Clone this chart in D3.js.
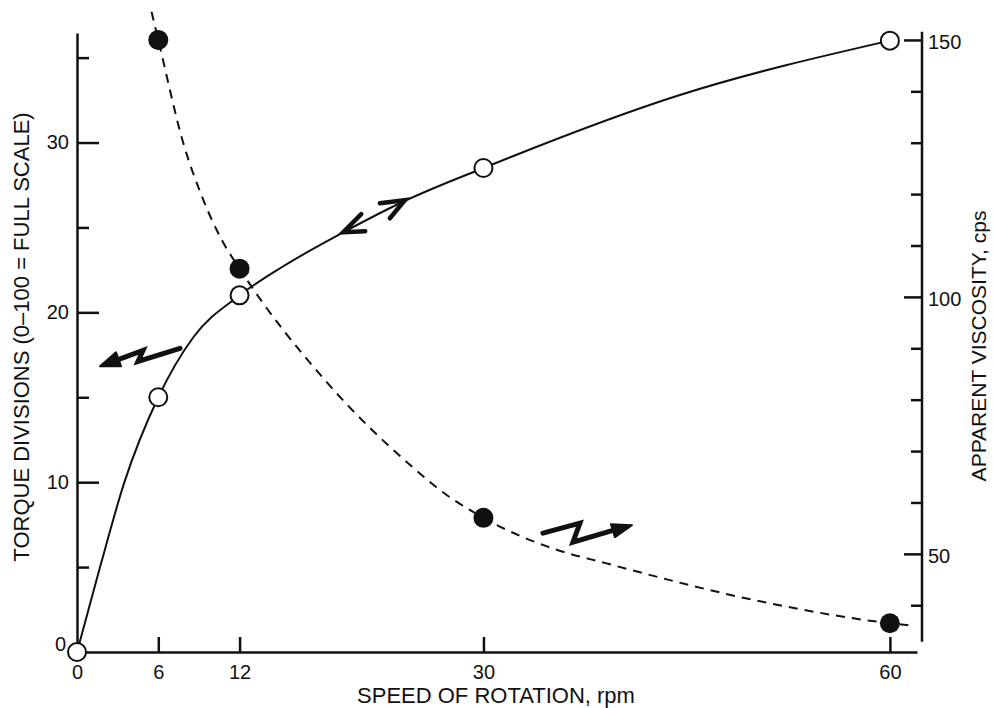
<!DOCTYPE html>
<html>
<head>
<meta charset="utf-8">
<script src="https://cdn.jsdelivr.net/npm/d3@7"></script>
<style>
  body { margin: 0; background: #fff; }
  text { font-family: 'Liberation Sans', Arial, Helvetica, sans-serif; fill: #111; }
</style>
</head>
<body>
<div id="chart-area"></div>
<script>
// measured points (circles)
var torqueRpm = [0, 6, 12, 30, 60];
var torqueDiv = [0, 15, 21, 28.5, 36];
var viscRpm = [6, 12, 30, 60];
var viscCps = [150, 105.5, 57, 36.5];

// hand drawn curves
var torqueCurveRpm = [0, 1.7, 3.5, 6, 8.6, 12, 15.2, 19.4, 24.3, 30, 44.5, 60];
var torqueCurveDiv = [0, 5, 10, 15, 18.55, 21, 22.7, 24.6, 26.6, 28.5, 32.8, 36];
var viscCurveRpm = [5.5, 6, 7.85, 9.32, 10.68, 12, 18.4, 24.8, 26.8, 30, 35.4, 39, 50, 60, 61.8];
var viscCurveCps = [155.5, 150, 129.9, 118.9, 111.1, 105.5, 83.5, 66.8, 62.4, 57, 50.8, 48.2, 41.0, 36.5, 36.0];

// ticks
var rpmTicks = [0, 6, 12, 30, 60];
var torqueTicks = [0, 5, 10, 15, 20, 25, 30, 35];
var torqueLabels = [0, 10, 20, 30];
var viscTicks = [40, 50, 60, 70, 80, 90, 100, 110, 120, 130, 140, 150];
var viscLabels = [50, 100, 150];

// annotation anchors (rpm, torque divisions)
var zigLeft = [1.7, 16.82];
var zigRight = [40.96, 7.47];
var curveArrows = [[19.65, 24.72], [24.2, 26.6]];

var margin = {top: 33, left: 77, right: 76, bottom: 56};
var width = 993 - margin.left - margin.right;
var height = 708 - margin.top - margin.bottom;
var ink = '#111';

var svg = d3.select('#chart-area')
  .append('svg')
    .attr('width', width + margin.left + margin.right)
    .attr('height', height + margin.top + margin.bottom)
  .append('g')
    .attr('transform', 'translate(' + margin.left + ',' + margin.top + ')');

var x = d3.scaleLinear().domain([0, 62]).range([0, width]);
var yT = d3.scaleLinear().domain([0, 36.45]).range([height, 0]);
var yV = d3.scaleLinear().domain([30.9, 151.35]).range([height, 0]);

// X axis
var xAxis = svg.append('g')
  .attr('transform', 'translate(0,' + height + ')')
  .call(d3.axisBottom(x).tickValues(rpmTicks).tickSizeInner(-15).tickSizeOuter(0).tickPadding(13));
xAxis.selectAll('.tick line').filter(d => d === 0).remove();

// left axis
var yAxisL = svg.append('g')
  .call(d3.axisLeft(yT).tickValues(torqueTicks).tickSizeInner(-12).tickSizeOuter(0).tickPadding(8)
    .tickFormat(d => torqueLabels.indexOf(d) >= 0 ? d : ''));
yAxisL.selectAll('.tick line').attr('x2', d => torqueLabels.indexOf(d) >= 0 ? 22 : 12);
yAxisL.selectAll('.tick').filter(d => d === 0).select('line').remove();
yAxisL.selectAll('.tick').filter(d => d === 0).select('text').attr('x', -11).attr('y', -8);

// right axis
var yAxisR = svg.append('g')
  .attr('transform', 'translate(' + (width + 5) + ',0)')
  .call(d3.axisRight(yV).tickValues(viscTicks).tickSizeInner(-11).tickSizeOuter(0).tickPadding(6)
    .tickFormat(d => viscLabels.indexOf(d) >= 0 ? d : ''));
yAxisR.selectAll('.tick line').attr('x2', d => viscLabels.indexOf(d) >= 0 ? -18 : -11);
yAxisR.selectAll('.tick text').attr('dy', '0.45em');
yAxisR.select('.domain').remove();
yAxisR.append('line')
  .attr('y1', yV(151.6)).attr('y2', yV(32.9))
  .attr('stroke', ink).attr('stroke-width', 2.5);

[xAxis, yAxisL, yAxisR].forEach(function(g){
  g.selectAll('.domain, line').attr('stroke', ink).attr('stroke-width', 2.5);
  g.selectAll('text').style('font-size', '20px').attr('fill', ink);
});

// axis titles
svg.append('text')
  .attr('transform', 'translate(-48,304) rotate(-90)')
  .attr('text-anchor', 'middle')
  .attr('font-size', '22px')
  .text('TORQUE DIVISIONS (0\u2013100 = FULL SCALE)');
svg.append('text')
  .attr('x', 419)
  .attr('y', height + 51)
  .attr('text-anchor', 'middle')
  .attr('font-size', '22px')
  .text('SPEED OF ROTATION, rpm');
svg.append('text')
  .attr('transform', 'translate(' + (width + 69) + ',313) rotate(-90)')
  .attr('text-anchor', 'middle')
  .attr('font-size', '21px')
  .text('APPARENT VISCOSITY, cps');

// curves
var torqueLine = d3.line()
  .x(d => x(d[0])).y(d => yT(d[1]))
  .curve(d3.curveMonotoneX);
var viscLine = d3.line()
  .x(d => x(d[0])).y(d => yV(d[1]))
  .curve(d3.curveMonotoneX);

svg.append('path')
  .datum(d3.zip(viscCurveRpm, viscCurveCps))
  .attr('fill', 'none')
  .attr('stroke', ink)
  .attr('stroke-width', 2)
  .attr('stroke-dasharray', '9,7')
  .attr('d', viscLine);

svg.append('path')
  .datum(d3.zip(torqueCurveRpm, torqueCurveDiv))
  .attr('fill', 'none')
  .attr('stroke', ink)
  .attr('stroke-width', 2)
  .attr('d', torqueLine);

// points
svg.selectAll('circle.visc')
  .data(d3.zip(viscRpm, viscCps))
  .enter().append('circle')
    .attr('class', 'visc')
    .attr('cx', d => x(d[0]))
    .attr('cy', d => yV(d[1]))
    .attr('r', 10)
    .attr('fill', ink);

svg.selectAll('circle.torque')
  .data(d3.zip(torqueRpm, torqueDiv))
  .enter().append('circle')
    .attr('class', 'torque')
    .attr('cx', d => x(d[0]))
    .attr('cy', d => yT(d[1]))
    .attr('r', 9)
    .attr('fill', '#fff')
    .attr('stroke', ink)
    .attr('stroke-width', 2);

// zigzag arrows
function zigzag(anchor, body, head){
  var g = svg.append('g')
    .attr('transform', 'translate(' + x(anchor[0]) + ',' + yT(anchor[1]) + ')');
  g.append('path')
    .attr('d', d3.line()(body))
    .attr('fill', 'none')
    .attr('stroke', ink)
    .attr('stroke-width', 5)
    .attr('stroke-linejoin', 'miter')
    .attr('stroke-linecap', 'round');
  g.append('path')
    .attr('d', d3.line()(head) + 'Z')
    .attr('fill', ink)
    .attr('stroke', ink)
    .attr('stroke-width', 2)
    .attr('stroke-linejoin', 'round');
}
zigzag(zigLeft, [[80, -18], [38, -5], [43, -16], [8, -3]], [[0, 0], [21, 0], [16, -14]]);
zigzag(zigRight, [[-89, 8], [-52, -2], [-59, 17], [-8, 2]], [[0, 0], [-21, -1], [-17, 12]]);

// open arrow heads along the torque curve
var heads = [
  [[18, -18], [0, 0], [22, -1]],
  [[-25, 3], [0, 0], [-15, 18]]
];
curveArrows.forEach(function(a, i){
  svg.append('path')
    .attr('transform', 'translate(' + x(a[0]) + ',' + yT(a[1]) + ')')
    .attr('d', d3.line()(heads[i]))
    .attr('fill', 'none')
    .attr('stroke', ink)
    .attr('stroke-width', 4.5)
    .attr('stroke-linecap', 'round')
    .attr('stroke-linejoin', 'miter');
});
</script>
</body>
</html>
